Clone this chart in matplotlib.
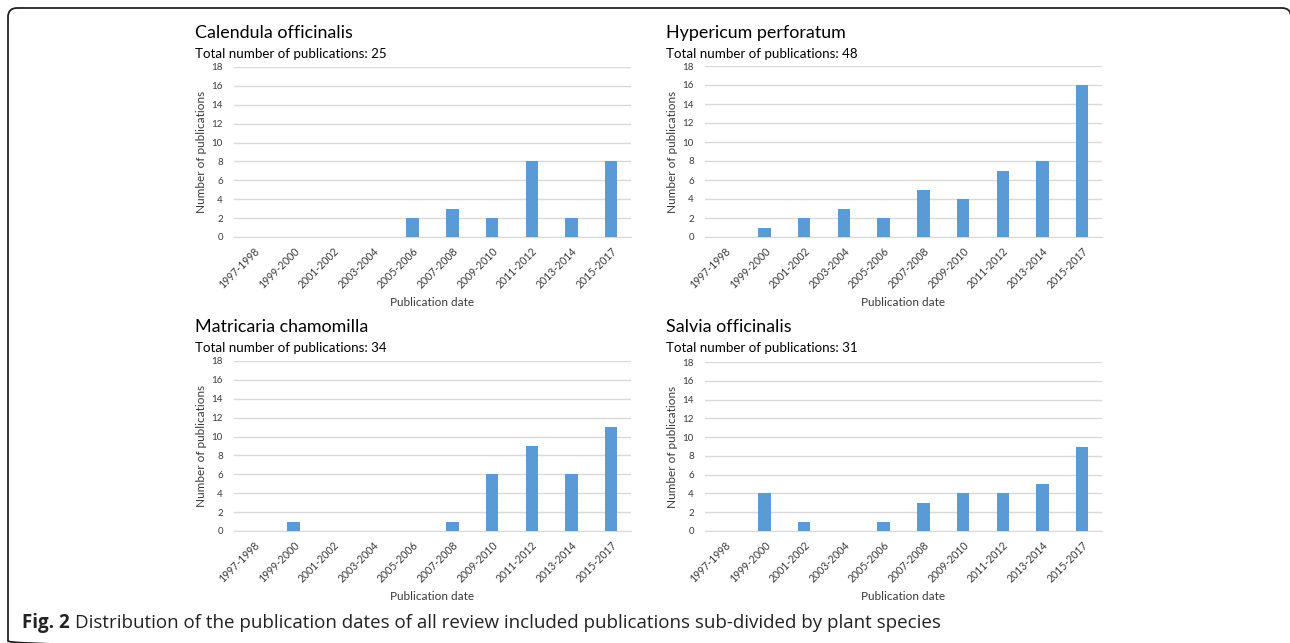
import numpy as np
import matplotlib.pyplot as plt
from matplotlib.patches import FancyBboxPatch

plt.rcParams['font.family'] = ['Lato', 'DejaVu Sans']

periodos = ['1997-1998', '1999-2000', '2001-2002', '2003-2004', '2005-2006',
            '2007-2008', '2009-2010', '2011-2012', '2013-2014', '2015-2017']

calendula = [0, 0, 0, 0, 2, 3, 2, 8, 2, 8]
hypericum = [0, 1, 2, 3, 2, 5, 4, 7, 8, 16]
matricaria = [0, 1, 0, 0, 0, 1, 6, 9, 6, 11]
salvia = [0, 4, 1, 0, 1, 3, 4, 4, 5, 9]

especies = ['Calendula officinalis', 'Hypericum perforatum',
            'Matricaria chamomilla', 'Salvia officinalis']
totais = [25, 48, 34, 31]
dados = [calendula, hypericum, matricaria, salvia]

W, H = 1290, 643
fig = plt.figure(figsize=(W / 100, H / 100), dpi=100)

# eixo de fundo em pixels para a moldura arredondada
fundo = fig.add_axes([0, 0, 1, 1], zorder=-1)
fundo.set_xlim(0, W)
fundo.set_ylim(H, 0)
fundo.axis('off')
fundo.add_patch(FancyBboxPatch((8, 8), 1291 - 8, 650 - 8,
                               boxstyle='round,pad=0,rounding_size=9',
                               fill=False, edgecolor='#222222', linewidth=1.3,
                               clip_on=False))

# posicoes (esquerda, topo, base, titulo_x, titulo_y) em pixels
layout = [
    (234, 67, 237, 195, 33),
    (705, 66, 237, 666, 33),
    (234, 361, 531, 195, 327),
    (705, 362, 531, 666, 327),
]

x = np.arange(len(periodos))
for (esq, topo, base, tx, ty), nome, total, valores in zip(layout, especies, totais, dados):
    ax = fig.add_axes([esq / W, 1 - base / H, 397 / W, (base - topo) / H])
    ax.bar(x, valores, width=0.31, color='#5B9BD5', zorder=3)
    ax.set_xlim(-0.5, len(periodos) - 0.5)
    ax.set_ylim(0, 18)
    ax.set_yticks(range(0, 19, 2))
    ax.set_xticks(x)
    ax.set_xticklabels(periodos, rotation=45, ha='right', rotation_mode='anchor')
    ax.tick_params(axis='both', length=0, colors='#3A3A3A')
    ax.tick_params(axis='y', pad=8, labelsize=7)
    ax.tick_params(axis='x', pad=6, labelsize=7.6)
    ax.grid(axis='y', color='#D9D9D9', linewidth=1, zorder=0)
    for lado in ['top', 'right', 'left']:
        ax.spines[lado].set_visible(False)
    ax.spines['bottom'].set_color('#D9D9D9')
    ax.set_ylabel('Number of publications', fontsize=8.5, color='#3A3A3A', labelpad=3)
    ax.set_xlabel('Publication date', fontsize=8.5, color='#3A3A3A', labelpad=5)
    fig.text(tx / W, 1 - ty / H, nome, fontsize=12.9, color='black', va='center', ha='left')
    fig.text(tx / W, 1 - (ty + 21) / H, 'Total number of publications: %d' % total,
             fontsize=9.6, color='black', va='center', ha='left')

# legenda da figura
fonte_leg = ['Open Sans', 'DejaVu Sans']
t1 = fig.text(22 / W, 1 - 623 / H, 'Fig. 2', fontsize=13.5, fontweight='bold',
              family=fonte_leg, va='center', ha='left', color='#222222')
renderer = fig.canvas.get_renderer()
bb = t1.get_window_extent(renderer)
fig.text((bb.x1 + 5) / W, 1 - 623 / H,
         'Distribution of the publication dates of all review included publications sub-divided by plant species',
         fontsize=13.5, family=fonte_leg, va='center', ha='left', color='#222222')

fig.savefig('out.png', dpi=100)
